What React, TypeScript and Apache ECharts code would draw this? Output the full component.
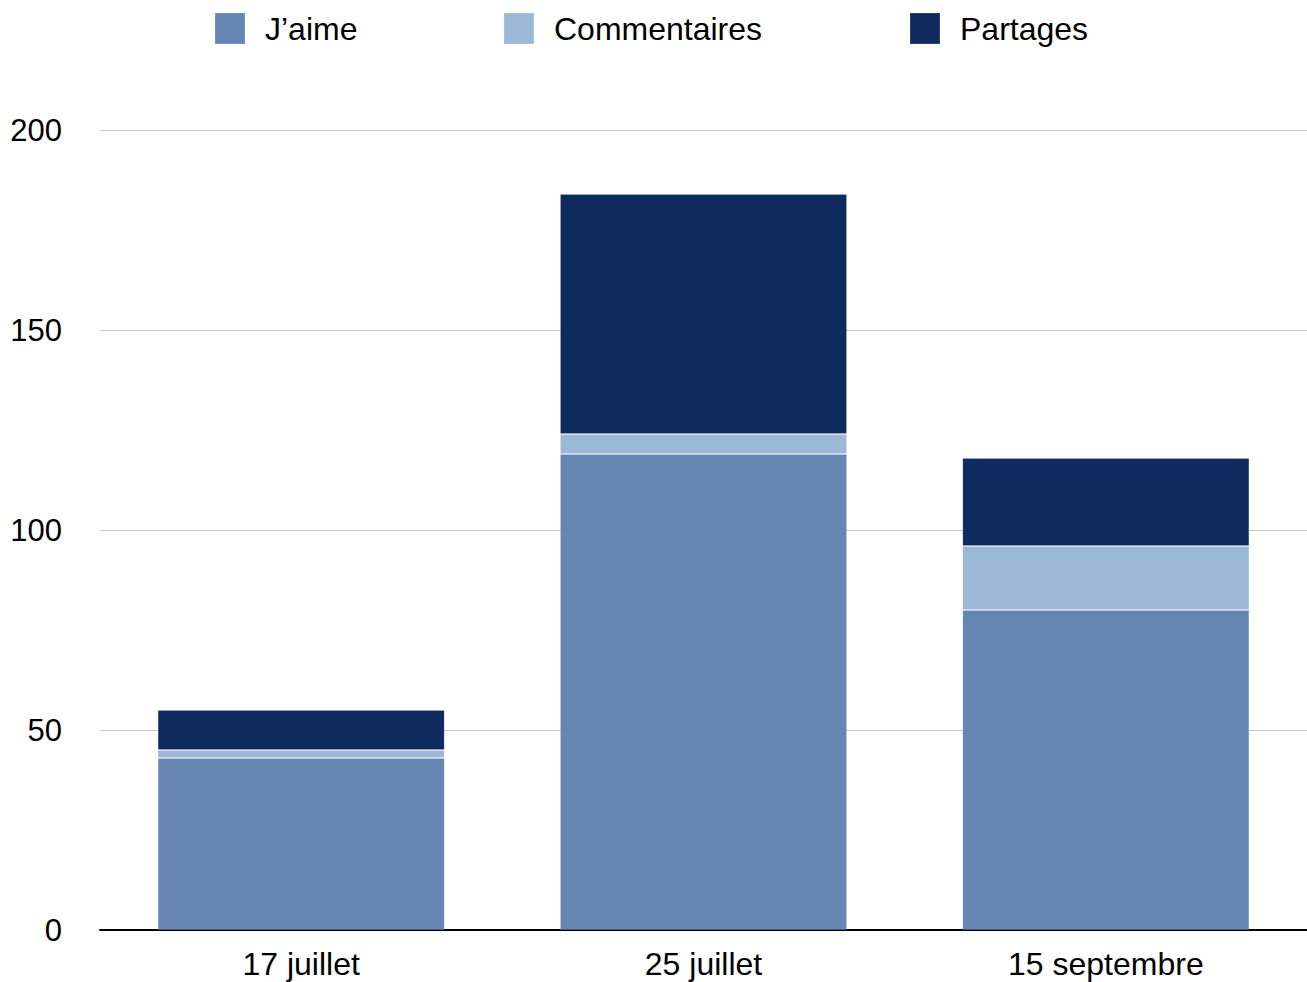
import React, { useEffect, useRef } from "react";
import * as echarts from "echarts";

const categories = ["17 juillet", "25 juillet", "15 septembre"];
const jaime = [43, 119, 80];
const commentaires = [2, 5, 16];
const partages = [10, 60, 22];
const seriesNames = ["J’aime", "Commentaires", "Partages"];
const colors = ["#6785B2", "#9BB8D6", "#0F2A5E"];
const legendLefts = [209, 498, 904];

const FONT = "'Liberation Sans', Arial, Helvetica, sans-serif";

export default function App() {
  const ref = useRef<HTMLDivElement>(null);
  useEffect(() => {
    if (!ref.current) return;
    const chart = echarts.init(ref.current, undefined, { renderer: "svg" });
    const data = [jaime, commentaires, partages];
    chart.setOption({
      animation: false,
      textStyle: { fontFamily: FONT },
      legend: seriesNames.map((name, i) => ({
        left: legendLefts[i],
        top: 7,
        itemWidth: 30,
        itemHeight: 31,
        icon: "rect",
        textStyle: { fontSize: 32, lineHeight: 31, color: "#000", fontFamily: FONT, padding: [0, 0, 0, 15] },
        data: [name],
      })),
      grid: { left: 100, right: 0, top: 130, bottom: 52, containLabel: false },
      xAxis: {
        type: "category",
        data: categories,
        axisLine: { show: true, lineStyle: { color: "#000", width: 2 } },
        axisTick: { show: false },
        axisLabel: { fontSize: 32, color: "#000", margin: 18, fontFamily: FONT },
      },
      yAxis: {
        type: "value",
        min: 0,
        max: 200,
        interval: 50,
        axisLine: { show: false },
        axisTick: { show: false },
        axisLabel: { fontSize: 31, color: "#000", margin: 38, fontFamily: FONT },
        splitLine: { lineStyle: { color: "#C8C8C8", width: 1 } },
      },
      series: seriesNames.map((name, i) => ({
        name,
        type: "bar",
        stack: "total",
        barWidth: 287,
        data: data[i],
        itemStyle: { color: colors[i], borderColor: "rgba(255,255,255,0.12)", borderWidth: 1 },
      })),
    });
    return () => chart.dispose();
  }, []);
  return <div ref={ref} style={{ width: 1307, height: 982, position: "absolute", left: 0, top: 0 }} />;
}
